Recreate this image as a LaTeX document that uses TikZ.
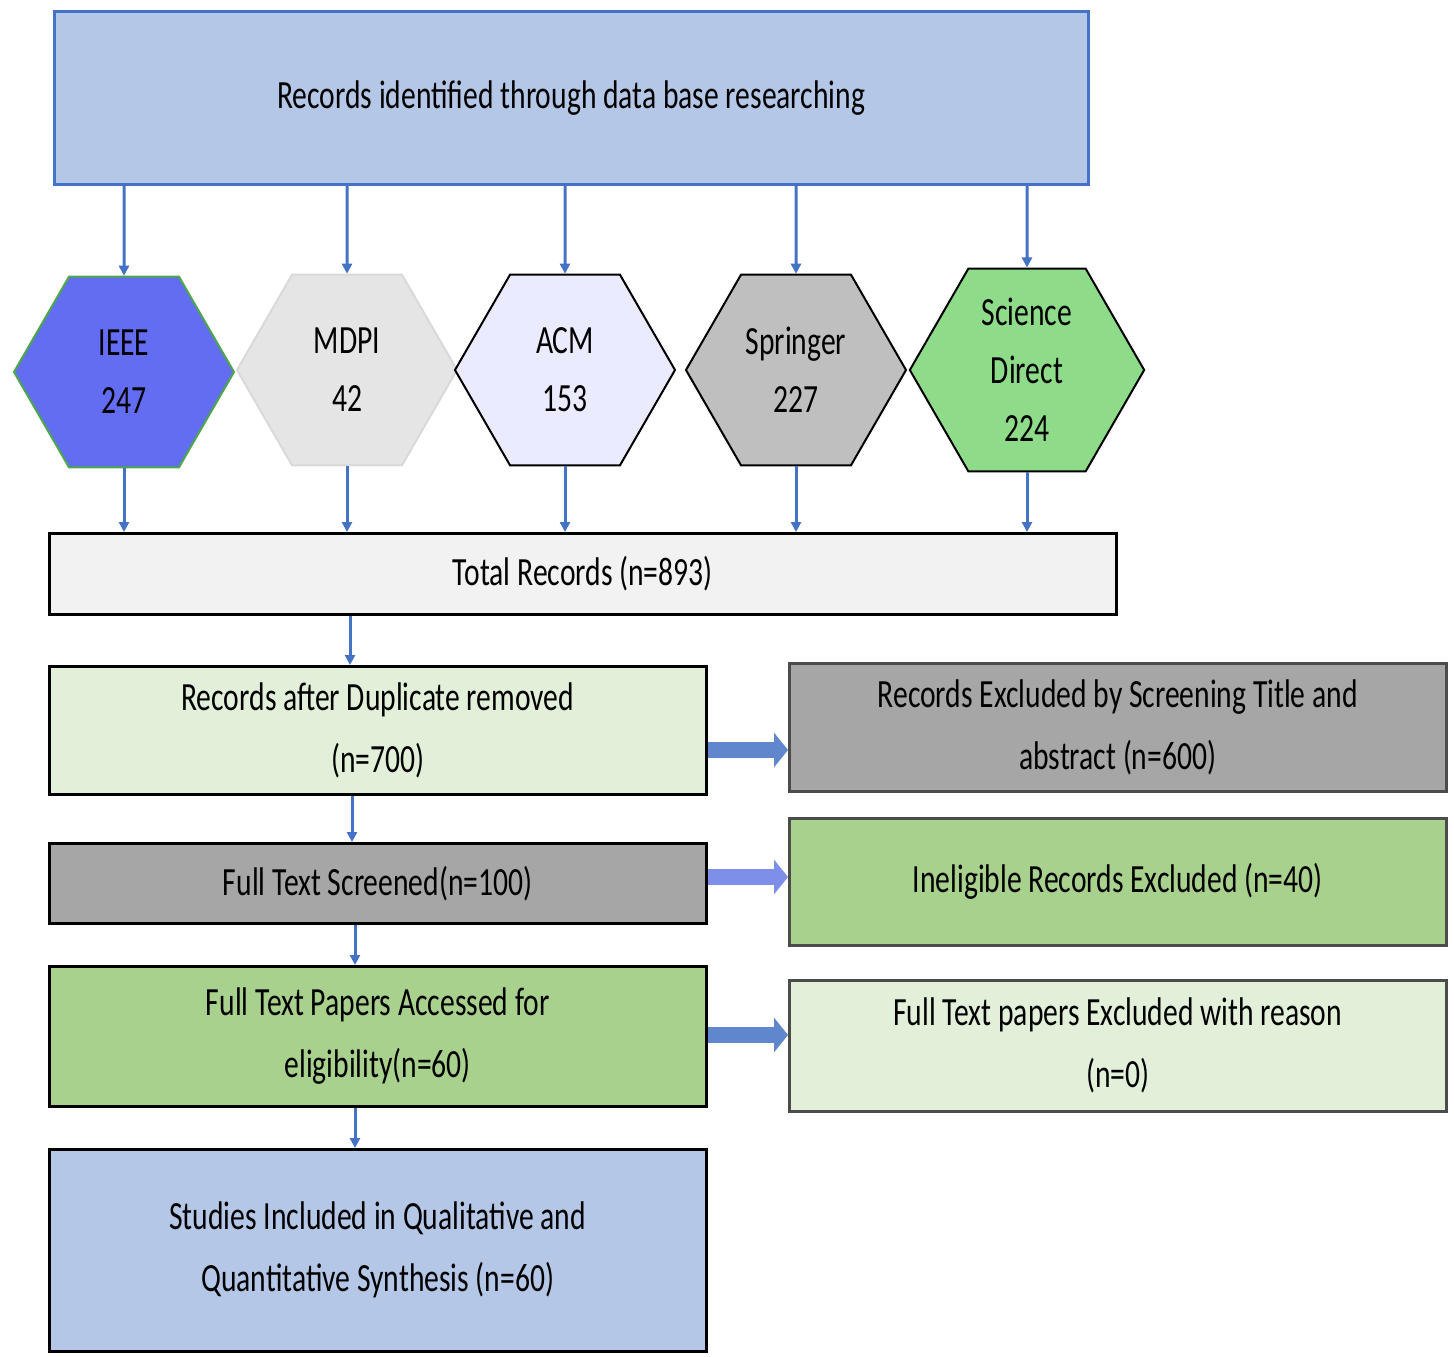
\documentclass[tikz,border=0pt]{standalone}
\usepackage{fontspec}
\setmainfont{Carlito}[FakeStretch=0.74]
\usetikzlibrary{shapes.geometric,arrows.meta}
\definecolor{lblue}{HTML}{B4C7E7}
\definecolor{bblue}{HTML}{4472C4}
\definecolor{lgreen}{HTML}{E2F0D9}
\definecolor{mgreen}{HTML}{A9D18E}
\definecolor{dgrey}{HTML}{A6A6A6}
\begin{document}
\begin{tikzpicture}[x=1pt,y=-1pt,
 box/.style={draw=#1,line width=2.5pt,anchor=north west,inner sep=0,align=center,font=\fontsize{40}{62}\selectfont},
 hex/.style={regular polygon,regular polygon sides=6,minimum size=220pt,inner sep=0,line width=2pt,align=center,font=\fontsize{40}{58}\selectfont},
 arr/.style={draw=bblue,line width=3pt,-{Triangle[length=10pt,width=10pt]}},
 fat/.style={draw=bblue!85,line width=16pt,-{Triangle[length=14pt,width=34pt]}}]
\useasboundingbox (0,0) rectangle (1454,1357);
\node[box=bblue,fill=lblue,minimum width=1034pt,minimum height=173pt] (top) at (53,10) {Records identified through data base researching};
\node[hex,draw=green!50!black!70,fill=blue!45!lblue] (ieee) at (124,372) {IEEE\\247};
\node[hex,draw=gray!30,fill=gray!20] (mdpi) at (347,370) {MDPI\\42};
\node[hex,draw=black,fill=blue!8] (acm) at (565,370) {ACM\\153};
\node[hex,draw=black,fill=gray!50] (spr) at (796,370) {Springer\\227};
\node[hex,draw=black,fill=green!30!lgreen!90!black] (sd) at (1027,370) {Science\\Direct\\224};
\node[box=black,fill=gray!10,minimum width=1067pt,minimum height=81pt] (tot) at (48,532) {Total Records (n=893)};
\node[box=black,fill=lgreen,minimum width=657pt,minimum height=128pt] (dup) at (48,665) {Records after Duplicate removed\\(n=700)};
\node[box=black!70,fill=dgrey,minimum width=657pt,minimum height=128pt] (exc) at (788,662) {Records Excluded by Screening Title and\\abstract (n=600)};
\node[box=black,fill=dgrey,minimum width=657pt,minimum height=80pt] (fts) at (48,842) {Full Text Screened(n=100)};
\node[box=black!70,fill=mgreen,minimum width=657pt,minimum height=127pt] (inel) at (788,817) {Ineligible Records Excluded (n=40)};
\node[box=black,fill=mgreen,minimum width=657pt,minimum height=140pt] (acc) at (48,965) {Full Text Papers Accessed for\\eligibility(n=60)};
\node[box=black!70,fill=lgreen,minimum width=657pt,minimum height=131pt] (rea) at (788,979) {Full Text papers Excluded with reason\\(n=0)};
\node[box=black,fill=lblue,minimum width=657pt,minimum height=202pt] (stu) at (48,1148) {Studies Included in Qualitative and\\Quantitative Synthesis (n=60)};
\foreach \h in {ieee,mdpi,acm,spr,sd}{
  \draw[arr] (top.south -| \h) -- (\h.north);
  \draw[arr] (\h.south) -- (\h.south |- tot.north);
}
\draw[arr] (tot.south -| 350,0) -- (dup.north -| 350,0);
\draw[arr] (dup.south -| 352,0) -- (fts.north -| 352,0);
\draw[arr] (fts.south -| 355,0) -- (acc.north -| 355,0);
\draw[arr] (acc.south -| 355,0) -- (stu.north -| 355,0);
\draw[fat] (dup.east |- 0,750) -- (exc.west |- 0,750);
\draw[fat,draw=blue!40!bblue!60] (fts.east |- 0,877) -- (inel.west |- 0,877);
\draw[fat] (acc.east |- 0,1035) -- (rea.west |- 0,1035);
\end{tikzpicture}
\end{document}
